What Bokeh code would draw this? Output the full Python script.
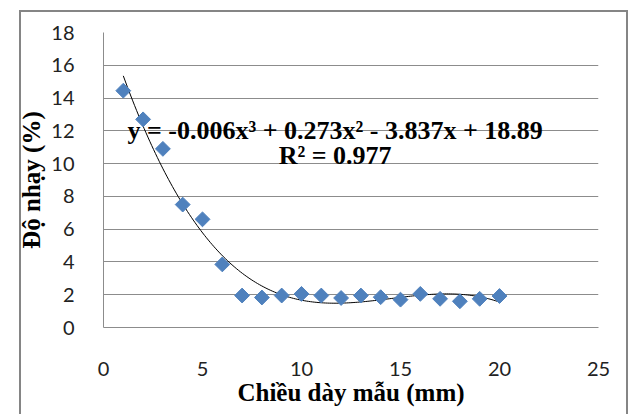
import numpy as np
from bokeh.plotting import figure
from bokeh.models import Range1d, Label, FixedTicker, InlineStyleSheet
from bokeh.embed import file_html
from bokeh.resources import INLINE

# Data
thickness_mm = [1, 2, 3, 4, 5, 6, 7, 8, 9, 10, 11, 12, 13, 14, 15, 16, 17, 18, 19, 20]
sensitivity_pct = [14.45, 12.7, 10.9, 7.5, 6.6, 3.85, 1.95, 1.83, 1.95, 2.05,
                   1.95, 1.8, 1.95, 1.85, 1.7, 2.05, 1.75, 1.6, 1.75, 1.92]
equation_text = "y = -0.006x³ + 0.273x² - 3.837x + 18.89"
r2_text = "R² = 0.977"
x_ticks = [0, 5, 10, 15, 20, 25]
y_ticks = [0, 2, 4, 6, 8, 10, 12, 14, 16, 18]

GRID = "#8c8c8c"
W, H = 630, 414

p = figure(width=W, height=H, output_backend="svg", toolbar_location=None,
           x_range=Range1d(0, 25), y_range=Range1d(0, 18),
           min_border_left=103, min_border_right=32, min_border_top=32, min_border_bottom=87)
p.background_fill_color = "white"
p.border_fill_color = "white"
p.outline_line_color = None

# Outer chart border (drawn by CSS on the figure's host element)
p.stylesheets = [InlineStyleSheet(css=(
    ":host { position: relative; }"
    ":host::after { content: ''; position: absolute; left: 19px; top: 10px; right: 2px; bottom: 0px;"
    " border: 2px solid #858585; border-bottom: none; pointer-events: none; z-index: 100; }"))]

# Axes
p.xaxis.ticker = FixedTicker(ticks=x_ticks)
p.yaxis.ticker = FixedTicker(ticks=y_ticks)
for ax in (p.xaxis[0], p.yaxis[0]):
    ax.major_tick_line_color = None
    ax.minor_tick_line_color = None
    ax.axis_line_color = GRID
    ax.axis_line_width = 1
    ax.major_label_text_font = "Lato"
    ax.major_label_text_font_size = "20px"
    ax.major_label_text_color = "#222222"
    ax.axis_label_text_font = "Liberation Serif"
    ax.axis_label_text_font_style = "bold"
    ax.axis_label_text_font_size = "25px"
    ax.axis_label_text_color = "black"

p.xaxis.axis_label = "Chiều dày mẫu (mm)"
p.yaxis.axis_label = "Độ nhạy (%)"
p.xaxis.major_label_standoff = 28
p.xaxis.axis_label_standoff = 0
p.yaxis.major_label_standoff = 23
p.yaxis.axis_label_standoff = 3

p.xgrid.grid_line_color = None
p.ygrid.grid_line_color = GRID
p.ygrid.grid_line_width = 1

# Polynomial (3rd order) trendline fitted to the data
coeffs = np.polyfit(thickness_mm, sensitivity_pct, 3)
xs = np.linspace(min(thickness_mm), max(thickness_mm), 200)
p.line(xs, np.polyval(coeffs, xs), line_color="black", line_width=1)

# Data points (diamonds)
p.scatter(thickness_mm, sensitivity_pct, marker="square", angle=np.pi / 4, size=10.5,
          fill_color="#4F81BD", line_color="#4F81BD")

# Equation labels
lbl = dict(text_align="center", text_baseline="middle", text_font="Liberation Serif",
           text_font_style="bold", text_font_size="26px", text_color="black")
p.add_layout(Label(x=11.7, y=12.0, text=equation_text, **lbl))
p.add_layout(Label(x=11.7, y=10.5, text=r2_text, **lbl))

open("out.html", "w").write(file_html(p, INLINE))
